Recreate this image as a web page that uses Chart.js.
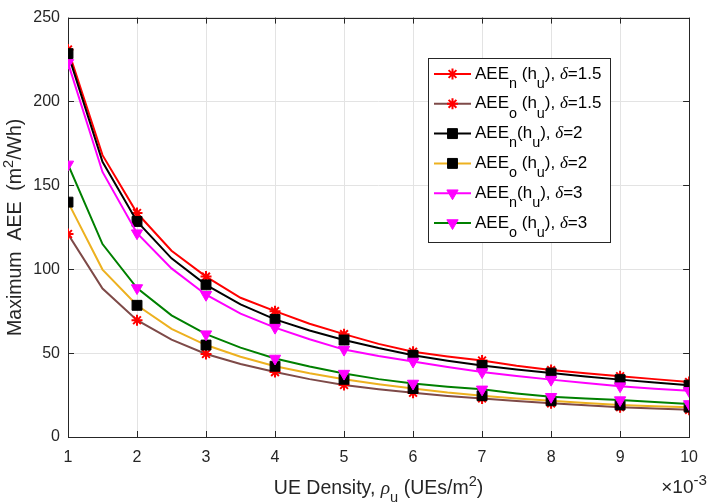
<!DOCTYPE html>
<html>
<head>
<meta charset="utf-8">
<script src="https://cdn.jsdelivr.net/npm/chart.js@4.4.1/dist/chart.umd.min.js"></script>
<style>
  html, body { margin: 0; background: #fff; }
  #wrap { width: 709px; height: 503px; }
</style>
</head>
<body>
<div id="wrap"><canvas id="chart" width="709" height="503"></canvas></div>
<script>
// UE density (x 10^-3 UEs/m^2)
const xVals = [1, 1.5, 2, 2.5, 3, 3.5, 4, 4.5, 5, 5.5, 6, 6.5, 7, 7.5, 8, 8.5, 9, 9.5, 10];

// Maximum AEE (m^2/Wh)
const aeeN15 = [231, 168, 133.5, 111, 95.6, 83, 75, 67.5, 61.3, 55.5, 50.8, 48, 45.6, 42.5, 39.9, 38, 36.2, 34.5, 32.8];
const aeeO15 = [121, 88.5, 69.6, 58, 49.5, 43.5, 38.7, 34.5, 31, 28.5, 26.4, 24.5, 23, 21.5, 20.1, 18.9, 17.8, 17, 16.2];
const aeeN2  = [228.5, 164, 128.5, 106.5, 90.7, 79, 70.1, 63.5, 57.8, 53, 48.7, 45.5, 42.6, 40.2, 38.1, 36.1, 34.2, 32.5, 30.9];
const aeeO2  = [140, 99.8, 78.5, 64.5, 54.8, 47.8, 42.2, 38, 34.4, 31.5, 28.9, 26.5, 24.6, 23, 21.6, 20.3, 19.1, 18.4, 17.8];
const aeeN3  = [223, 158, 121.5, 100.5, 84.8, 73.5, 65.2, 58.3, 52.1, 48.3, 45, 41.7, 38.7, 36.3, 34.2, 32.2, 30.3, 28.8, 27.5];
const aeeO3  = [162.5, 115, 88.8, 72.5, 61.3, 53.3, 46.8, 42, 37.8, 34.5, 31.9, 30, 28.4, 26, 24, 23, 22, 20.8, 19.7];

const xTicks = [1, 2, 3, 4, 5, 6, 7, 8, 9, 10];
const yTicks = [0, 50, 100, 150, 200, 250];

const FONT = "'Liberation Sans', Arial, Helvetica, sans-serif";
const AXIS_COLOR = "#262626";

// legend labels: [text, style] parts, style "" | "sub" | "sup" | "greek"
const legendLabels = [
    [["AEE", ""], ["n", "sub"], [" (h", ""], ["u", "sub"], ["), ", ""], ["\u03b4", "greek"], ["=1.5", ""]],
    [["AEE", ""], ["o", "sub"], [" (h", ""], ["u", "sub"], ["), ", ""], ["\u03b4", "greek"], ["=1.5", ""]],
    [["AEE", ""], ["n", "sub"], ["(h", ""], ["u", "sub"], ["), ", ""], ["\u03b4", "greek"], ["=2", ""]],
    [["AEE", ""], ["o", "sub"], [" (h", ""], ["u", "sub"], ["), ", ""], ["\u03b4", "greek"], ["=2", ""]],
    [["AEE", ""], ["n", "sub"], ["(h", ""], ["u", "sub"], ["), ", ""], ["\u03b4", "greek"], ["=3", ""]],
    [["AEE", ""], ["o", "sub"], [" (h", ""], ["u", "sub"], ["), ", ""], ["\u03b4", "greek"], ["=3", ""]]
];

const series = [
    { data: aeeN15, line: "#ff0000", marker: "star",     mColor: "#ff0000", r: 5.5, rot: 0 },
    { data: aeeO15, line: "#7e4a48", marker: "star",     mColor: "#ff0000", r: 5.5, rot: 0 },
    { data: aeeN2,  line: "#000000", marker: "rect",     mColor: "#000000", r: 7,   rot: 0 },
    { data: aeeO2,  line: "#edb120", marker: "rect",     mColor: "#000000", r: 7,   rot: 0 },
    { data: aeeN3,  line: "#ff00ff", marker: "triangle", mColor: "#ff00ff", r: 6.5, rot: 180 },
    { data: aeeO3,  line: "#008000", marker: "triangle", mColor: "#ff00ff", r: 6.5, rot: 180 }
];

const datasets = series.map((s, i) => ({
    data: s.data.map((v, j) => ({ x: xVals[j], y: v })),
    borderColor: s.line,
    borderWidth: 2,
    pointStyle: s.marker,
    pointRotation: s.rot,
    pointBackgroundColor: s.mColor,
    pointBorderColor: s.mColor,
    pointBorderWidth: s.marker === "star" ? 2 : 1,
    pointRadius: ctx => Number.isInteger(xVals[ctx.dataIndex]) ? s.r : 0,
    tension: 0,
    order: series.length - i
}));

// rich text: sub/sup scale and shift given per call
function fontFor(style, size, small) {
    if (style === "greek") return "italic " + size + "px 'Liberation Serif', 'DejaVu Serif', serif";
    if (style === "sub" || style === "sup") return (size * small).toFixed(1) + "px " + FONT;
    return size + "px " + FONT;
}

function richWidth(ctx, parts, size, small) {
    let w = 0;
    parts.forEach(([t, st]) => { ctx.font = fontFor(st, size, small); w += ctx.measureText(t).width; });
    return w;
}

function drawRich(ctx, parts, x, y, size, small, subDy, supDy) {
    let cx = x;
    parts.forEach(([t, st]) => {
        ctx.font = fontFor(st, size, small);
        let dy = 0;
        if (st === "sub") dy = size * subDy;
        if (st === "sup") dy = -size * supDy;
        ctx.fillText(t, cx, y + dy);
        cx += ctx.measureText(t).width;
    });
}

const framePlugin = {
    id: "frame",
    beforeDatasetsDraw(chart) {
        const { ctx, chartArea: a, scales } = chart;
        ctx.save();
        ctx.strokeStyle = AXIS_COLOR;
        ctx.lineWidth = 1;
        ctx.strokeRect(Math.round(a.left) + 0.5, Math.round(a.top) + 0.5,
            Math.round(a.right - a.left), Math.round(a.bottom - a.top));
        ctx.beginPath();
        xTicks.forEach(v => {
            const px = Math.round(scales.x.getPixelForValue(v)) + 0.5;
            ctx.moveTo(px, a.bottom); ctx.lineTo(px, a.bottom - 6);
            ctx.moveTo(px, a.top); ctx.lineTo(px, a.top + 6);
        });
        yTicks.forEach(v => {
            const py = Math.round(scales.y.getPixelForValue(v)) + 0.5;
            ctx.moveTo(a.left, py); ctx.lineTo(a.left + 6, py);
            ctx.moveTo(a.right, py); ctx.lineTo(a.right - 6, py);
        });
        ctx.stroke();
        ctx.restore();
    },
    afterDraw(chart) {
        const { ctx, chartArea: a } = chart;
        ctx.save();
        ctx.fillStyle = AXIS_COLOR;
        ctx.textBaseline = "alphabetic";

        // x title
        const xt = [["UE Density, ", ""], ["\u03c1", "greek"], ["u", "sub"], [" (UEs/m", ""], ["2", "sup"], [")", ""]];
        const xw = richWidth(ctx, xt, 19.5, 0.75);
        drawRich(ctx, xt, (a.left + a.right) / 2 - xw / 2, 494, 19.5, 0.75, 0.4, 0.4);

        // exponent
        const ex = [["\u00d7", ""], ["10", ""], ["-3", "sup"]];
        const ew = richWidth(ctx, ex, 19, 0.8);
        drawRich(ctx, ex, 707 - ew, 493, 19, 0.8, 0.4, 0.4);

        // y title
        const yt = [["Maximum  AEE  (m", ""], ["2", "sup"], ["/Wh)", ""]];
        const yw = richWidth(ctx, yt, 19.5, 0.75);
        ctx.translate(21, (a.top + a.bottom) / 2);
        ctx.rotate(-Math.PI / 2);
        drawRich(ctx, yt, -yw / 2, 0, 19.5, 0.75, 0.4, 0.4);
        ctx.restore();

        // legend
        ctx.save();
        const lx = 428.5, ly = 58.5, lw = 182, lh = 184;
        ctx.fillStyle = "#ffffff";
        ctx.fillRect(lx, ly, lw, lh);
        ctx.strokeStyle = AXIS_COLOR;
        ctx.lineWidth = 1;
        ctx.strokeRect(lx, ly, lw, lh);
        series.forEach((s, i) => {
            const y = 74 + i * 29.8;
            ctx.strokeStyle = s.line;
            ctx.lineWidth = 2;
            ctx.beginPath();
            ctx.moveTo(434, y); ctx.lineTo(471, y);
            ctx.stroke();
            ctx.fillStyle = s.mColor;
            ctx.strokeStyle = s.mColor;
            ctx.lineWidth = s.marker === "star" ? 2 : 1;
            Chart.helpers.drawPoint(ctx, { pointStyle: s.marker, radius: s.r, rotation: s.rot, borderWidth: ctx.lineWidth }, 452.5, y);
            ctx.fillStyle = "#000000";
            drawRich(ctx, legendLabels[i], 475, y + 4.5, 17, 0.85, 0.55, 0.4);
        });
        ctx.restore();
    }
};

new Chart(document.getElementById("chart"), {
    type: "line",
    data: { datasets },
    options: {
        responsive: false,
        devicePixelRatio: 1,
        animation: false,
        layout: { padding: { top: 12, right: 11, left: 0, bottom: 0 } },
        plugins: { legend: { display: false }, tooltip: { enabled: false } },
        scales: {
            x: {
                type: "linear",
                min: 1, max: 10,
                afterBuildTicks: sc => { sc.ticks = xTicks.map(v => ({ value: v })); },
                afterFit: sc => { sc.height = 66; },
                grid: { color: "#e3e3e3", drawTicks: false },
                border: { display: false },
                ticks: { padding: 11, color: AXIS_COLOR, font: { family: FONT, size: 16 } }
            },
            y: {
                min: 0, max: 250,
                afterBuildTicks: sc => { sc.ticks = yTicks.map(v => ({ value: v })); },
                afterFit: sc => { sc.width = 68; },
                grid: { color: "#e3e3e3", drawTicks: false },
                border: { display: false },
                ticks: { padding: 8, color: AXIS_COLOR, font: { family: FONT, size: 16 } }
            }
        }
    },
    plugins: [framePlugin]
});
</script>
</body>
</html>
